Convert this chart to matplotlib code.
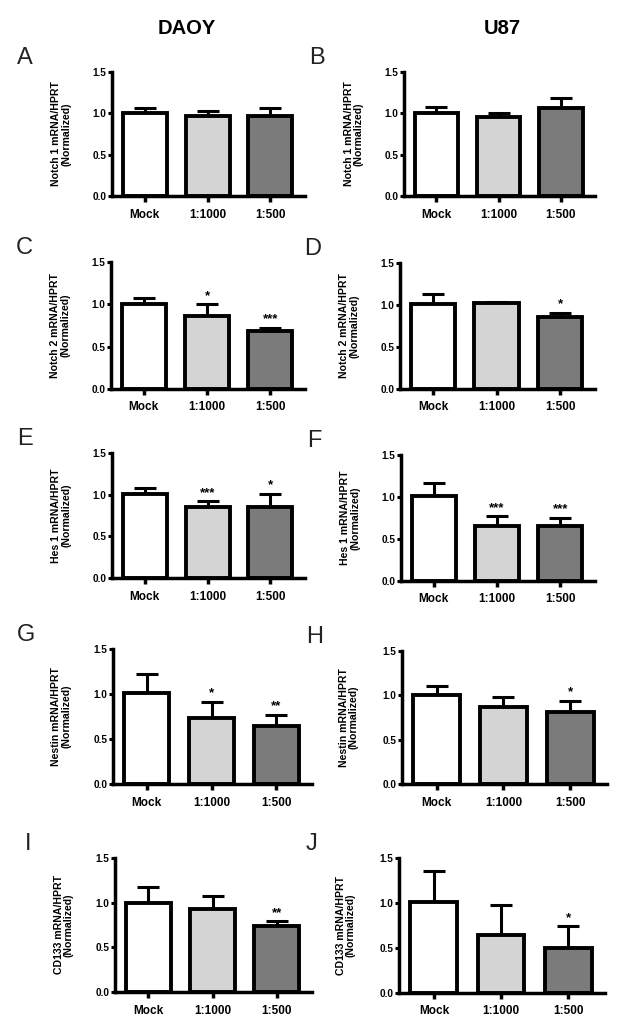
import matplotlib
matplotlib.use("Agg")
import matplotlib.pyplot as plt
import numpy as np

plt.rcParams['font.family'] = ['Liberation Sans', 'DejaVu Sans']

groups = ["Mock", "1:1000", "1:500"]
bar_colors = ["#ffffff", "#d4d4d4", "#7b7b7b"]

# means / upper error (SEM) per panel
notch1_daoy = [1.01, 0.97, 0.97]
notch1_daoy_err = [0.06, 0.06, 0.09]
notch1_u87 = [1.00, 0.95, 1.07]
notch1_u87_err = [0.08, 0.06, 0.11]
notch2_daoy = [1.00, 0.86, 0.68]
notch2_daoy_err = [0.07, 0.14, 0.04]
notch2_u87 = [1.01, 1.02, 0.86]
notch2_u87_err = [0.12, 0.02, 0.05]
hes1_daoy = [1.01, 0.85, 0.85]
hes1_daoy_err = [0.07, 0.07, 0.16]
hes1_u87 = [1.01, 0.65, 0.65]
hes1_u87_err = [0.16, 0.12, 0.10]
nestin_daoy = [1.01, 0.73, 0.65]
nestin_daoy_err = [0.21, 0.18, 0.12]
nestin_u87 = [1.00, 0.87, 0.81]
nestin_u87_err = [0.11, 0.11, 0.13]
cd133_daoy = [1.00, 0.93, 0.74]
cd133_daoy_err = [0.17, 0.14, 0.05]
cd133_u87 = [1.01, 0.64, 0.50]
cd133_u87_err = [0.35, 0.34, 0.24]

sig_a = ["", "", ""]
sig_b = ["", "", ""]
sig_c = ["", "*", "***"]
sig_d = ["", "", "*"]
sig_e = ["", "***", "*"]
sig_f = ["", "***", "***"]
sig_g = ["", "*", "**"]
sig_h = ["", "", "*"]
sig_i = ["", "", "**"]
sig_j = ["", "", "*"]

panels = [
    ("A", "Notch 1 mRNA/HPRT\n(Normalized)", notch1_daoy, notch1_daoy_err, sig_a, (112, 72, 305, 196)),
    ("B", "Notch 1 mRNA/HPRT\n(Normalized)", notch1_u87, notch1_u87_err, sig_b, (404, 72, 595, 196)),
    ("C", "Notch 2 mRNA/HPRT\n(Normalized)", notch2_daoy, notch2_daoy_err, sig_c, (111, 262, 305, 389)),
    ("D", "Notch 2 mRNA/HPRT\n(Normalized)", notch2_u87, notch2_u87_err, sig_d, (400, 263, 595, 389)),
    ("E", "Hes 1 mRNA/HPRT\n(Normalized)", hes1_daoy, hes1_daoy_err, sig_e, (112, 453, 305, 578)),
    ("F", "Hes 1 mRNA/HPRT\n(Normalized)", hes1_u87, hes1_u87_err, sig_f, (401, 455, 595, 581)),
    ("G", "Nestin mRNA/HPRT\n(Normalized)", nestin_daoy, nestin_daoy_err, sig_g, (113, 649, 312, 784)),
    ("H", "Nestin mRNA/HPRT\n(Normalized)", nestin_u87, nestin_u87_err, sig_h, (402, 651, 607, 784)),
    ("I", "CD133 mRNA/HPRT\n(Normalized)", cd133_daoy, cd133_daoy_err, sig_i, (115, 858, 312, 992)),
    ("J", "CD133 mRNA/HPRT\n(Normalized)", cd133_u87, cd133_u87_err, sig_j, (399, 858, 605, 993)),
]

W, H = 624, 1034
fig = plt.figure(figsize=(W / 100, H / 100), dpi=100)

for letter, ylab, vals, errs, sig, (l, t, r, b) in panels:
    ax = fig.add_axes([l / W, 1 - b / H, (r - l) / W, (b - t) / H])
    x = np.arange(len(groups))
    ax.bar(x, vals, width=0.7, color=bar_colors, edgecolor="black", linewidth=2.8, zorder=2)
    ax.errorbar(x, vals, yerr=[np.zeros(3), errs], fmt="none", ecolor="black",
                elinewidth=2.2, capsize=8, capthick=2.2, zorder=1)
    for xi, v, e, s in zip(x, vals, errs, sig):
        if s:
            ax.text(xi, v + e + 0.03, s, ha="center", va="bottom", fontsize=9.5, fontweight="bold")
    ax.set_xlim(-0.52, 2.55)
    ax.set_ylim(0, 1.5)
    ax.set_yticks([0, 0.5, 1.0, 1.5])
    ax.set_yticklabels(["0.0", "0.5", "1.0", "1.5"], fontsize=7.2, fontweight="bold")
    ax.set_xticks(x)
    ax.set_xticklabels(groups, fontsize=8.5, fontweight="bold")
    ax.tick_params(axis="y", width=2.2, length=3, pad=1)
    ax.tick_params(axis="x", width=2.5, length=4, pad=5)
    for sp in ["top", "right"]:
        ax.spines[sp].set_visible(False)
    for sp in ["left", "bottom"]:
        ax.spines[sp].set_linewidth(2.5)
    ax.set_ylabel(ylab, fontsize=7.6, fontweight="bold", linespacing=1.0)
    ax.yaxis.set_label_coords(-0.21, 0.5)
    fig.text((l - 87) / W, 1 - (t - 14) / H, letter, fontsize=17, ha="center", va="center",
             fontweight="light", color="#222222")

fig.text(187 / W, 1 - 28 / H, "DAOY", fontsize=14.5, fontweight="bold", ha="center", va="center")
fig.text(502 / W, 1 - 28 / H, "U87", fontsize=14.5, fontweight="bold", ha="center", va="center")

fig.savefig("out.png", dpi=100)
